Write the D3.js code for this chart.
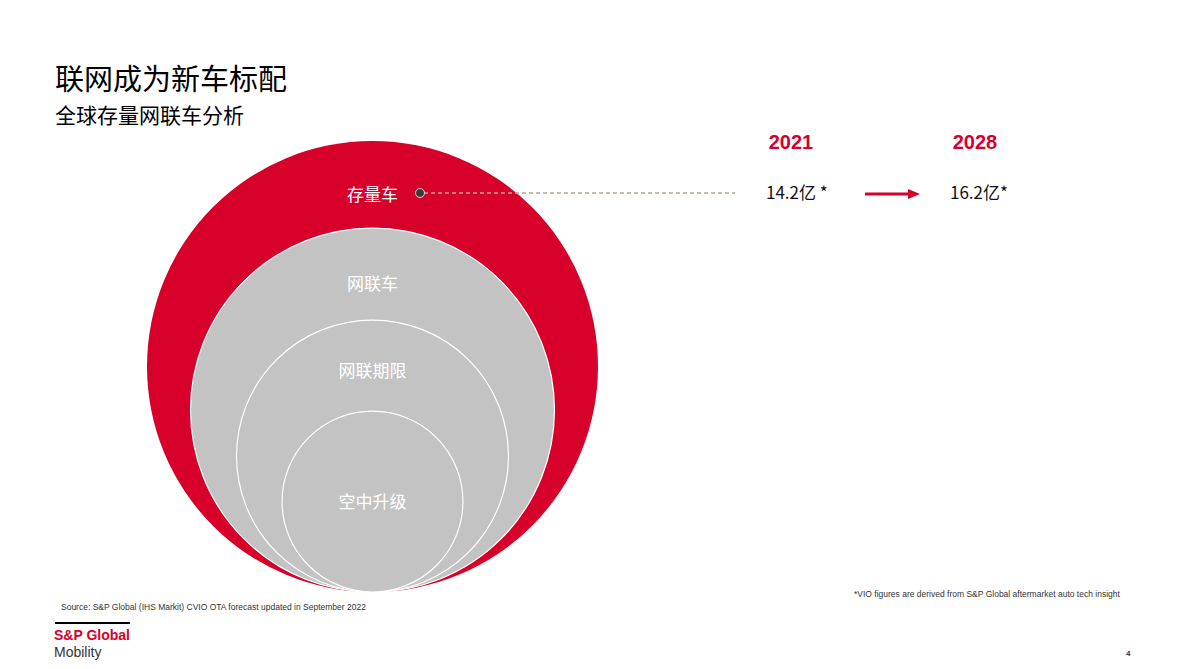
<!DOCTYPE html>
<html><head><meta charset="utf-8">
<script src="https://cdn.jsdelivr.net/npm/d3@7"></script>
<style>body{margin:0;background:#fff}svg{display:block;font-family:"Noto Sans CJK SC",Arial,sans-serif}</style>
</head><body><svg id="c" width="1190" height="669"></svg>
<script>
// nested circles, relative size (outer = 100)
var layers = ["存量车", "网联车", "网联期限", "空中升级"];
var sizes = [100, 80.7, 60.3, 40.1];
var labelY = [195, 284, 371, 502];
var years = ["2021", "2028"];
var yearValues = ["14.2亿 *", "16.2亿*"];

var svg = d3.select("#c");
var cx = 372.5, base = 592;
var r = d3.scaleLinear().domain([0, 100]).range([0, 225.5]);
var fills = ["#d6002a", "#c3c3c3", "#c3c3c3", "#c3c3c3"];

svg.append("text").attr("x", 55).attr("y", 90).attr("font-size", 29).attr("fill", "#000").text("联网成为新车标配");
svg.append("text").attr("x", 55).attr("y", 123).attr("font-size", 21).attr("fill", "#000").text("全球存量网联车分析");

svg.selectAll("circle.layer").data(sizes).enter().append("circle")
  .attr("class", "layer")
  .attr("cx", cx)
  .attr("cy", function(d) { return base - r(d); })
  .attr("r", function(d) { return r(d); })
  .attr("fill", function(d, i) { return fills[i]; })
  .attr("stroke", function(d, i) { return i ? "#fff" : "none"; })
  .attr("stroke-width", 1.2);

svg.selectAll("text.lab").data(layers).enter().append("text")
  .attr("class", "lab")
  .attr("x", cx).attr("y", function(d, i) { return labelY[i]; })
  .attr("dy", "0.35em").attr("text-anchor", "middle")
  .attr("font-size", 17).attr("fill", "#fff")
  .text(function(d) { return d; });

// leader line
svg.append("line").attr("x1", 424).attr("x2", 735).attr("y1", 193).attr("y2", 193)
  .attr("stroke", "#b5a593").attr("stroke-width", 1.3).attr("stroke-dasharray", "4,3");
svg.append("circle").attr("cx", 420).attr("cy", 193).attr("r", 4.5)
  .attr("fill", "#3a3a3a").attr("stroke", "#ddd").attr("stroke-width", 1);

var xYear = d3.scalePoint().domain(years).range([791, 975]);
svg.selectAll("text.yr").data(years).enter().append("text")
  .attr("x", function(d) { return xYear(d); }).attr("y", 149).attr("text-anchor", "middle")
  .attr("font-size", 20).attr("font-weight", "bold").attr("fill", "#d6002a")
  .attr("font-family", "Liberation Sans, Arial").text(function(d) { return d; });
svg.selectAll("text.val").data(yearValues).enter().append("text")
  .attr("x", function(d, i) { return xYear(years[i]) - 25; }).attr("y", 199)
  .attr("font-size", 17).attr("fill", "#111").text(function(d) { return d; });

svg.append("line").attr("x1", 865).attr("x2", 910).attr("y1", 194).attr("y2", 194)
  .attr("stroke", "#d6002a").attr("stroke-width", 3);
svg.append("path").attr("d", "M908,189 L920,194 L908,199 Z").attr("fill", "#d6002a");

svg.append("text").attr("x", 61).attr("y", 610).attr("font-size", 8.5).attr("fill", "#333")
  .attr("font-family", "Liberation Sans, Arial").text("Source: S&P Global (IHS Markit) CVIO OTA forecast updated in September 2022");
svg.append("text").attr("x", 854).attr("y", 597).attr("font-size", 8.5).attr("fill", "#333")
  .attr("font-family", "Liberation Sans, Arial").text("*VIO figures are derived from S&P Global aftermarket auto tech insight");

svg.append("line").attr("x1", 55).attr("x2", 130).attr("y1", 623).attr("y2", 623).attr("stroke", "#000").attr("stroke-width", 2);
svg.append("text").attr("x", 54).attr("y", 640).attr("font-size", 14).attr("font-weight", "bold").attr("fill", "#d6002a")
  .attr("font-family", "Liberation Sans, Arial").attr("textLength", 76).text("S&P Global");
svg.append("text").attr("x", 54).attr("y", 657).attr("font-size", 14).attr("fill", "#333")
  .attr("font-family", "Liberation Sans, Arial").text("Mobility");
svg.append("text").attr("x", 1126).attr("y", 656).attr("font-size", 8).attr("font-weight", "bold").attr("fill", "#333")
  .attr("font-family", "Liberation Sans, Arial").text("4");
</script></body></html>
